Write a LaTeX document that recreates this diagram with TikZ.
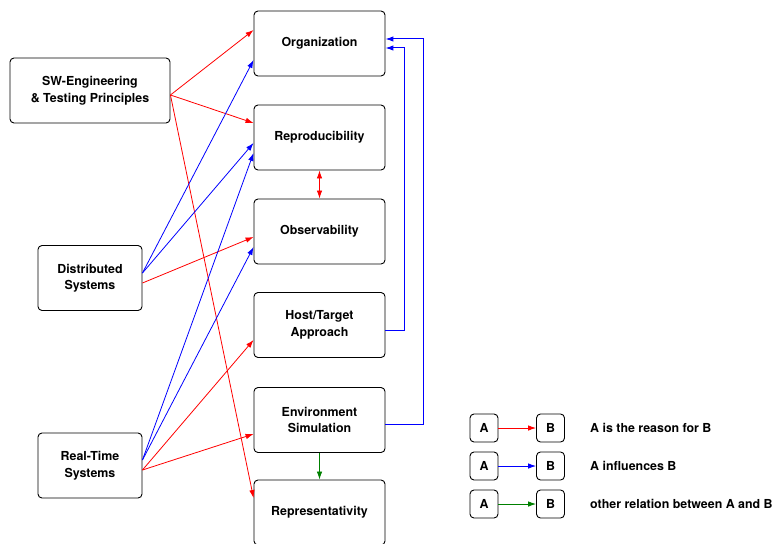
\documentclass[tikz,border=0pt]{standalone}
\usepackage{fontspec}
\setmainfont{TeX Gyre Heros}
\usetikzlibrary{arrows.meta}
\begin{document}
\begin{tikzpicture}[
    x=1pt, y=-1pt,
    font=\fontsize{12.4}{16.5}\selectfont\bfseries,
    box/.style={draw, rounded corners=4pt, align=center, inner sep=0pt,
        minimum width=131pt, minimum height=65pt, line width=0.9pt},
    source/.style={box, minimum width=104pt},
    key/.style={draw, rounded corners=4pt, minimum size=28pt, inner sep=0pt, line width=0.9pt},
    rel/.style={-{Latex[length=8pt,width=5.5pt]}, line width=0.8pt},
    reason/.style={rel, red},
    influence/.style={rel, blue},
    other/.style={rel, green!50!black}]
    \useasboundingbox (0,0) rectangle (775,543);
    \node[box] (org) at (319.5,43.5) {Organization};
    \node[box] (repro) at (319.5,137.5) {Reproducibility};
    \node[box] (obs) at (319.5,231.5) {Observability};
    \node[box] (host) at (319.5,325) {Host/Target\\Approach};
    \node[box] (env) at (319.5,420) {Environment\\Simulation};
    \node[box] (repr) at (319.5,512.5) {Representativity};
    \node[source, minimum width=160pt] (sweng) at (90,90.5) {SW-Engineering\\\& Testing Principles};
    \node[source] (dist) at (90,278) {Distributed\\Systems};
    \node[source] (rts) at (90,465.5) {Real-Time\\Systems};
    \draw[reason] ([yshift=-4.5pt]sweng.east) -- ([yshift=13.5pt]org.west);
    \draw[reason] ([yshift=-4.5pt]sweng.east) -- ([yshift=14.5pt]repro.west);
    \draw[reason] ([yshift=-4.5pt]sweng.east) -- ([yshift=14.5pt]repr.west);
    \draw[influence] ([yshift=5pt]dist.east) -- ([yshift=-16.5pt]org.west);
    \draw[influence] ([yshift=5pt]dist.east) -- ([yshift=-5.5pt]repro.west);
    \draw[reason] ([yshift=-5pt]dist.east) -- ([yshift=-5.5pt]obs.west);
    \draw[influence] ([yshift=5.5pt]rts.east) -- ([yshift=-15.5pt]repro.west);
    \draw[influence] ([yshift=5.5pt]rts.east) -- ([yshift=-15.5pt]obs.west);
    \draw[reason] ([yshift=-4.5pt]rts.east) -- ([yshift=-15pt]host.west);
    \draw[reason] ([yshift=-4.5pt]rts.east) -- ([yshift=-14pt]env.west);
    \draw[reason, {Latex[length=8pt,width=5.5pt]}-{Latex[length=8pt,width=5.5pt]}] (repro.south) -- (obs.north);
    \draw[other] (env.south) -- (repr.north);
    \draw[influence, line width=1pt] ([yshift=-5pt]host.east) -- ++(19,0) |- ([yshift=-4.5pt]org.east);
    \draw[influence, line width=1pt] ([yshift=-4pt]env.east) -- ++(38,0) |- ([yshift=4.5pt]org.east);
    \node[key] (a1) at (484,428) {A};
    \node[key] (b1) at (550.5,428) {B};
    \node[key] (a2) at (484,466) {A};
    \node[key] (b2) at (550.5,466) {B};
    \node[key] (a3) at (484,504) {A};
    \node[key] (b3) at (550.5,504) {B};
    \draw[reason] (a1) -- (b1);
    \draw[influence] (a2) -- (b2);
    \draw[other] (a3) -- (b3);
    \node[anchor=west, inner sep=0pt] (t1) at (590,428) {A is the reason for B};
    \node[anchor=west, inner sep=0pt] (t2) at (590,466) {A influences B};
    \node[anchor=west, inner sep=0pt] (t3) at (590,504) {other relation between A and B};
\end{tikzpicture}
\end{document}
